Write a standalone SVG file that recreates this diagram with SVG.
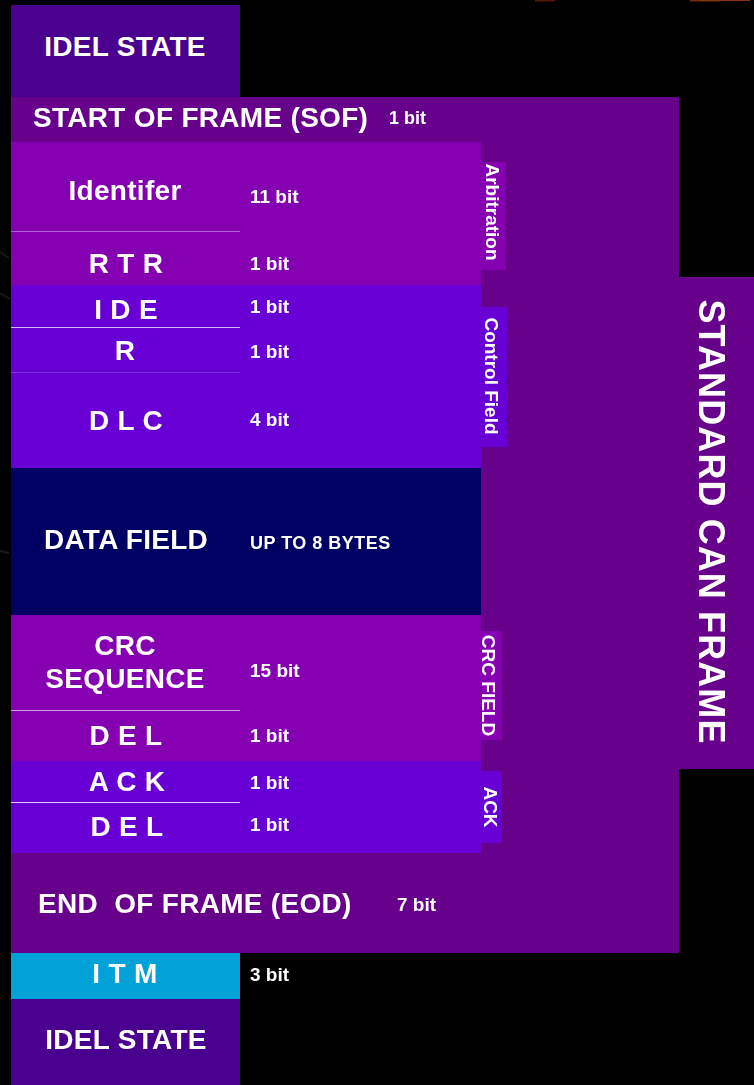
<svg xmlns="http://www.w3.org/2000/svg" width="754" height="1085" viewBox="0 0 754 1085">
<style>
.t{font-family:"Liberation Sans",Arial,sans-serif;font-weight:bold;fill:#ffffff}
.big{font-size:28px;letter-spacing:0.3px}
.bit{font-size:19px}
.tab{font-size:19px}
.mid{text-anchor:middle}
.sep{stroke-width:1.2}
</style>
<rect x="0" y="0" width="754" height="1085" fill="#000000"/>
<g id="background-traces" opacity="0.6">
<rect x="535" y="0" width="20" height="1.5" fill="#8a2a08"/>
<rect x="690" y="0" width="30" height="1.5" fill="#c04010"/>
<rect x="700" y="0" width="50" height="1" fill="#e05a14"/>
<path d="M0 252 L9 258 M0 293 L10 299 M0 551 L9 553" stroke="#6a5a50" stroke-width="2" fill="none" opacity="0.45"/>
</g>
<g id="connectors"/>
<g id="idle-top">
<rect x="11" y="5" width="229" height="92" fill="#4a008e"/>
<text class="t big mid" x="125" y="56">IDEL STATE</text>
</g>
<g id="standard-can-frame">
<rect x="11" y="97" width="668" height="856" fill="#67008a"/>
<rect x="679" y="277" width="75" height="492" fill="#67008a"/>
<text class="t mid" style="font-size:36px;letter-spacing:1.1px" transform="translate(699,522) rotate(90)">STANDARD CAN FRAME</text>
</g>
<g id="sof">
<text class="t big" x="33" y="127">START OF FRAME (SOF)</text>
<text class="t" style="font-size:18px" x="389" y="124">1 bit</text>
</g>
<g id="arbitration-field">
<rect x="11" y="142" width="470" height="143" fill="#8500b0"/>
<line class="sep" x1="11" y1="231.5" x2="240" y2="231.5" stroke="#b060d8"/>
<rect x="481" y="162" width="25" height="108" fill="#8500b0"/>
<text class="t tab mid" transform="translate(486,212) rotate(90)">Arbitration</text>
</g>
<g id="identifier">
<text class="t big mid" x="125" y="200">Identifer</text>
<text class="t bit" x="250" y="203">11 bit</text>
</g>
<g id="rtr">
<text class="t big mid" x="126" y="273">R T R</text>
<text class="t bit" x="250" y="270">1 bit</text>
</g>
<g id="control-field">
<rect x="11" y="285" width="470" height="183" fill="#6800d6"/>
<line class="sep" x1="11" y1="327.5" x2="240" y2="327.5" stroke="#d8b8f8"/>
<line class="sep" x1="11" y1="372.5" x2="240" y2="372.5" stroke="#7e30e0"/>
<rect x="481" y="307" width="26" height="140" fill="#6800d6"/>
<text class="t tab mid" transform="translate(485,376) rotate(90)">Control Field</text>
</g>
<g id="ide">
<text class="t big mid" x="126" y="319">I D E</text>
<text class="t bit" x="250" y="313">1 bit</text>
</g>
<g id="r">
<text class="t big mid" x="125" y="360">R</text>
<text class="t bit" x="250" y="358">1 bit</text>
</g>
<g id="dlc">
<text class="t big mid" x="126" y="430">D L C</text>
<text class="t bit" x="250" y="426">4 bit</text>
</g>
<g id="data-field">
<rect x="11" y="468" width="470" height="147" fill="#000062"/>
<text class="t big mid" x="126" y="549">DATA FIELD</text>
<text class="t" style="font-size:18px;letter-spacing:0.5px" x="250" y="549">UP TO 8 BYTES</text>
</g>
<g id="crc-field">
<rect x="11" y="615" width="470" height="146" fill="#8500b0"/>
<line class="sep" x1="11" y1="710.5" x2="240" y2="710.5" stroke="#d0a0e8"/>
<rect x="481" y="631" width="21" height="109" fill="#8500b0"/>
<text class="t tab mid" transform="translate(482,685.5) rotate(90)">CRC FIELD</text>
</g>
<g id="crc-sequence">
<text class="t big mid" x="125" y="655">CRC</text>
<text class="t big mid" x="125" y="688">SEQUENCE</text>
<text class="t bit" x="250" y="677">15 bit</text>
</g>
<g id="crc-del">
<text class="t big mid" x="126" y="745">D E L</text>
<text class="t bit" x="250" y="742">1 bit</text>
</g>
<g id="ack-field">
<rect x="11" y="761" width="470" height="92" fill="#6800d6"/>
<line class="sep" x1="11" y1="802.5" x2="240" y2="802.5" stroke="#e0c8ff"/>
<rect x="481" y="771" width="21" height="72" fill="#6800d6"/>
<text class="t tab mid" transform="translate(484,807) rotate(90)">ACK</text>
</g>
<g id="ack">
<text class="t big mid" x="127" y="791">A C K</text>
<text class="t bit" x="250" y="789">1 bit</text>
</g>
<g id="ack-del">
<text class="t big mid" x="127" y="836">D E L</text>
<text class="t bit" x="250" y="831">1 bit</text>
</g>
<g id="eof">
<text class="t big" x="38" y="913" xml:space="preserve">END  OF FRAME (EOD)</text>
<text class="t bit" x="397" y="911">7 bit</text>
</g>
<g id="itm">
<rect x="11" y="953" width="229" height="46" fill="#00a2d8"/>
<text class="t big mid" x="125" y="983">I T M</text>
<text class="t bit" x="250" y="981">3 bit</text>
</g>
<g id="idle-bottom">
<rect x="11" y="999" width="229" height="86" fill="#4a008e"/>
<text class="t big mid" x="126" y="1049">IDEL STATE</text>
</g>
</svg>
